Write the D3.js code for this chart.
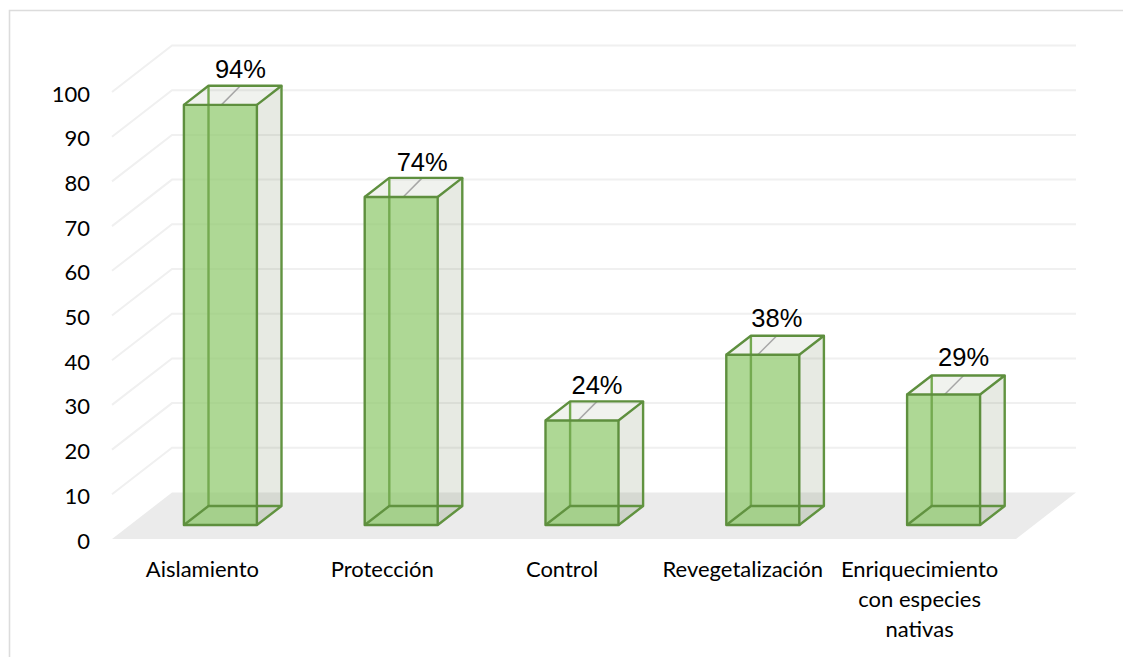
<!DOCTYPE html>
<html><head><meta charset="utf-8">
<script src="https://cdn.jsdelivr.net/npm/d3@7"></script>
<style>html,body{margin:0;padding:0;background:#fff}svg{display:block}</style>
</head><body><svg id="c" width="1123" height="658"></svg>
<script>
const categories = ["Aislamiento","Protección","Control","Revegetalización","Enriquecimiento con especies nativas"];
const values = [94,73.4,23.4,38.1,29.2];
const dataLabels = ["94%","74%","24%","38%","29%"];
const yTicks = [0,10,20,30,40,50,60,70,80,90,100];
const categoryLines = [["Aislamiento"],["Protección"],["Control"],["Revegetalización"],["Enriquecimiento","con especies","nativas"]];

const svg = d3.select("#c");
const W=1123,H=658;
const depthX=60, depthY=-46.5;
const y = d3.scaleLinear().domain([0,100]).range([539,92]);
const x = d3.scaleBand().domain(categories).range([112,1016]).paddingInner(0.6).paddingOuter(0.3);
const barW=73;
const x0 = d => x(d)+x.bandwidth()/2-barW/2;
const ins1=0.30, ins2=0.71;
const labelShift=[0,1,-5,-6,0];
const labelRise=[8,7,7,9,9];
const catShift=[-18,-19,-20,-20,-24];
const pth = p => "M"+p.map(a=>a.join(",")).join("L")+"Z";

// frame
svg.append("path").attr("d",`M9.5,${H-1}V10.5H${W}`).attr("fill","none").attr("stroke","#dcdcdc").attr("stroke-width",1.6);

// floor
svg.append("path").attr("d",pth([[112,y(0)],[112+depthX,y(0)+depthY],[1016+depthX,y(0)+depthY],[1016,y(0)]])).attr("fill","#ebebeb");

// gridlines
const grid=svg.append("g").attr("fill","none").attr("stroke","#f0f0f0").attr("stroke-width",2);
yTicks.filter(t=>t>0).forEach(t=>{
  grid.append("path").attr("d",`M112,${y(t)}L${112+depthX},${y(t)+depthY}H${1016+depthX}`);
});

// bars
const g=svg.append("g");
categories.forEach((c,i)=>{
  const v=values[i];
  const xl=x0(c);
  const fdx=depthX*ins1, fdy=depthY*ins1, bdx=depthX*ins2, bdy=depthY*ins2;
  const dx=bdx-fdx, dy=bdy-fdy;
  const base=y(0)+fdy, top=base-(y(0)-y(v));
  const L=xl+fdx, R=L+barW;
  const lx=L+barW/2+20+labelShift[i];
  const b=g.append("g");
  b.append("path").attr("d",pth([[L,top],[L+dx,top+dy],[R+dx,top+dy],[R,top]])).attr("fill","rgba(120,140,100,.11)");
  b.append("path").attr("d",pth([[R,top],[R+dx,top+dy],[R+dx,base+dy],[R,base]])).attr("fill","rgba(120,140,100,.18)");
  b.append("path").attr("d",pth([[L,base],[L+dx,base+dy],[R+dx,base+dy],[R,base]])).attr("fill","rgba(120,140,100,.08)");
  b.append("line").attr("x1",lx-19).attr("y1",top).attr("x2",lx).attr("y2",top+dy).attr("stroke","#a6a6a6").attr("stroke-width",1.5);
  b.append("rect").attr("x",L).attr("y",top).attr("width",barW).attr("height",base-top).attr("fill","rgba(139,199,104,.7)");
  b.append("path").attr("d",`M${L+dx},${top+dy}V${base+dy}`).attr("stroke","#74aa50").attr("stroke-width",2.4).attr("fill","none");
  b.append("path").attr("d",`M${L},${base}L${L+dx},${base+dy}H${R+dx}L${R},${base}M${R+dx},${base+dy}V${top+dy}`).attr("stroke","#619340").attr("stroke-width",2.4).attr("fill","none").attr("stroke-linejoin","round");
  b.append("path").attr("d",`M${L},${top}L${L+dx},${top+dy}H${R+dx}L${R},${top}`).attr("stroke","#5e8f3e").attr("stroke-width",2.4).attr("fill","none").attr("stroke-linejoin","round");
  b.append("rect").attr("x",L).attr("y",top).attr("width",barW).attr("height",base-top).attr("fill","none").attr("stroke","#5e8f3e").attr("stroke-width",2.4).attr("stroke-linejoin","round");
  g.append("text").attr("x",lx).attr("y",top+dy-labelRise[i]).attr("text-anchor","middle")
    .attr("font-family","'Liberation Sans',Arial,sans-serif").attr("font-size",25.5).attr("fill","#000").text(dataLabels[i]);
});

// y tick labels via axis
const axisG=svg.append("g").attr("transform","translate(97,2)")
  .call(d3.axisLeft(y).tickValues(yTicks).tickSize(0).tickPadding(7));
axisG.select(".domain").remove();
axisG.selectAll("text").attr("font-family","Lato,sans-serif").attr("font-size",22).attr("fill","#000");

// category labels
categories.forEach((c,i)=>{
  const cx=x0(c)+barW/2+depthX*ins1+catShift[i];
  const t=svg.append("text").attr("text-anchor","middle").attr("font-family","Lato,sans-serif").attr("font-size",22).attr("fill","#000");
  categoryLines[i].forEach((ln,j)=>t.append("tspan").attr("x",cx).attr("y",577+j*30).text(ln));
});
</script></body></html>
